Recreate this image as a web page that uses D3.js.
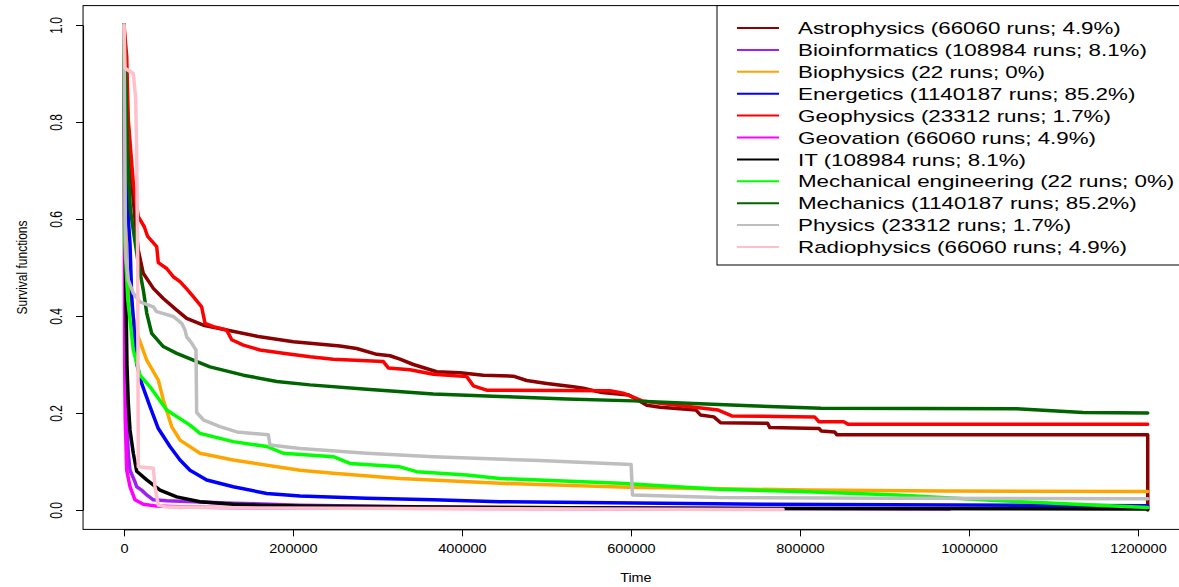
<!DOCTYPE html>
<html lang="en">
  <head>
    <meta charset="utf-8" />
    <title>Survival functions</title>
    <script src="https://cdnjs.cloudflare.com/ajax/libs/d3/7.8.5/d3.min.js"></script>
    <style>
      body { margin: 0; background: #fff; }
      text { font-family: "Liberation Sans", Arial, Helvetica, sans-serif; fill: #000; }
    </style>
  </head>
  <body>
    <div id="chart"></div>
    <script>
    // categories and legend info
    var categories = ["Astrophysics", "Bioinformatics", "Biophysics", "Energetics", "Geophysics",
                      "Geovation", "IT", "Mechanical engineering", "Mechanics", "Physics", "Radiophysics"];
    var runs = [66060, 108984, 22, 1140187, 23312, 66060, 108984, 22, 1140187, 23312, 66060];
    var shares = ["4.9", "8.1", "0", "85.2", "1.7", "4.9", "8.1", "0", "85.2", "1.7", "4.9"];
    var colors = ["#8B0000", "#A020F0", "#FFA500", "#0000FF", "#FF0000",
                  "#FF00FF", "#000000", "#00FF00", "#006400", "#BEBEBE", "#FFC0CB"];

    var xTicks = [0, 200000, 400000, 600000, 800000, 1000000, 1200000];
    var yTicks = [0, 0.2, 0.4, 0.6, 0.8, 1.0];

    // survival curves, [time, survival]
    var astrophysics = [[0,1],[3000,0.85],[8000,0.70],[13000,0.60],[16900,0.536],[22800,0.488],[34700,0.457],
      [46500,0.436],[62400,0.412],[74200,0.395],[93900,0.381],[121500,0.371],[160900,0.357],[200400,0.347],
      [220100,0.344],[255600,0.338],[275400,0.333],[299100,0.321],[314800,0.318],[326600,0.311],[342400,0.300],
      [370100,0.285],[397600,0.283],[425200,0.278],[460700,0.276],[476600,0.267],[500200,0.261],[531700,0.254],
      [543600,0.251],[565700,0.242],[597500,0.237],[618700,0.216],[634600,0.212],[676900,0.206],[682100,0.196],
      [698100,0.192],[706000,0.180],[761500,0.179],[764300,0.170],[822500,0.168],[825100,0.163],[841000,0.161],
      [843700,0.155],[1211500,0.155],[1211500,0]];
    var bioinformatics = [[0,1],[700,0.6],[1800,0.35],[3200,0.186],[5100,0.117],[7100,0.082],[13000,0.058],
      [15000,0.048],[20900,0.041],[26900,0.031],[34700,0.021],[50500,0.019],[129300,0.014],[208300,0.010],
      [366000,0.006],[600000,0.004],[977000,0.002]];
    var biophysics = [[0,1],[1000,0.7],[3500,0.5],[10700,0.4],[16900,0.357],[26900,0.309],[40600,0.268],
      [46500,0.227],[56400,0.172],[66300,0.144],[89900,0.117],[129300,0.103],[208300,0.082],[247700,0.076],
      [326600,0.065],[445000,0.055],[597500,0.047],[809200,0.041],[968000,0.039],[1211500,0.038]];
    var energetics = [[0,1],[3000,0.75],[5100,0.6],[7100,0.55],[9100,0.44],[15000,0.302],[20900,0.261],[30800,0.213],
      [40600,0.168],[54400,0.131],[66300,0.103],[78100,0.082],[97900,0.062],[129300,0.048],[168900,0.034],
      [208300,0.029],[287200,0.024],[366000,0.021],[445000,0.017],[756200,0.012],[1211500,0.009]];
    var geophysics = [[0,1],[3200,0.935],[5100,0.804],[11000,0.674],[16900,0.605],[24000,0.584],[28000,0.564],
      [38700,0.543],[40600,0.510],[50500,0.498],[58300,0.481],[66300,0.471],[74200,0.456],[82000,0.440],
      [91900,0.419],[95900,0.385],[105700,0.378],[121500,0.371],[127500,0.351],[141200,0.340],[160900,0.330],
      [188500,0.323],[220100,0.316],[247700,0.311],[306900,0.306],[312800,0.293],[338500,0.289],[366000,0.280],
      [405600,0.275],[413400,0.256],[429200,0.247],[575100,0.246],[590900,0.241],[613400,0.225],[634300,0.220],
      [703300,0.206],[719300,0.194],[817200,0.192],[822500,0.182],[851600,0.182],[856800,0.177],[1211500,0.177]];
    var geovation = [[0,1],[300,0.6],[800,0.3],[1500,0.186],[3200,0.082],[7100,0.048],[13000,0.021],
      [22800,0.012],[38700,0.008],[74200,0.006],[160900,0.004],[700000,0.002]];
    var it = [[0,1],[800,0.7],[1800,0.5],[3500,0.3],[5100,0.22],[7100,0.165],[11000,0.117],[15000,0.08],
      [26900,0.062],[42600,0.041],[62400,0.027],[89900,0.017],[129300,0.012],[160900,0.010],[208300,0.008],
      [445000,0.005],[800000,0.003],[1211500,0.002]];
    var mechEngineering = [[0,1],[1000,0.55],[4500,0.433],[11000,0.33],[18900,0.278],[30800,0.254],[50500,0.206],
      [78100,0.175],[89900,0.158],[129300,0.141],[168900,0.131],[188500,0.117],[247700,0.110],[267500,0.096],
      [326600,0.089],[346400,0.079],[405600,0.072],[445000,0.065],[587000,0.055],[703300,0.043],[800000,0.038],
      [915000,0.031],[1036700,0.019],[1126600,0.012],[1211500,0.005]];
    var mechanics = [[0,1],[2500,0.86],[4500,0.72],[7500,0.62],[11000,0.577],[16900,0.509],[22800,0.454],[26900,0.406],
      [32800,0.364],[46500,0.337],[62400,0.323],[82000,0.309],[101700,0.295],[141200,0.278],[180700,0.265],
      [220100,0.258],[287200,0.249],[366000,0.239],[445000,0.234],[523900,0.229],[602700,0.225],[681700,0.219],
      [740800,0.215],[824800,0.210],[1056400,0.209],[1135000,0.201],[1211500,0.200]];
    var physics = [[0,1],[800,0.8],[1500,0.6],[2400,0.52],[5100,0.474],[11000,0.447],[18900,0.429],[34700,0.419],
      [38700,0.409],[58300,0.399],[68300,0.385],[72200,0.371],[74200,0.357],[80100,0.344],[85200,0.330],
      [86000,0.201],[93800,0.186],[113600,0.172],[133400,0.161],[170800,0.155],[172800,0.134],[208300,0.127],
      [287200,0.117],[366000,0.110],[491600,0.102],[600100,0.094],[601800,0.031],[703300,0.026],[915000,0.024],
      [1211500,0.023]];
    var radiophysics = [[0,1],[1200,0.911],[11000,0.900],[13800,0.849],[15000,0.736],[16200,0.515],[16900,0.089],
      [34700,0.086],[36700,0.048],[40600,0.010],[50500,0.006],[160900,0.004],[780000,0.001]];

    var curves = [astrophysics, bioinformatics, biophysics, energetics, geophysics, geovation,
                  it, mechEngineering, mechanics, physics, radiophysics];

    var width = 1179, height = 587;

    var svg = d3.select("#chart")
      .append("svg")
        .attr("width", width)
        .attr("height", height);

    // scales (R style: data range extended by 4% on both sides)
    var xMax = d3.max(curves, function(c){ return d3.max(c, function(d){ return d[0]; }); });
    var x = d3.scaleLinear().domain([0, 1200000]).range([124, 1138]);
    var y = d3.scaleLinear().domain([0, 1]).range([510, 25]);
    var boxL = x(-0.04 * xMax), boxR = x(1.04 * xMax);
    var boxT = y(1.04), boxB = y(-0.04);

    // curves
    var line = d3.line()
      .x(function(d){ return x(d[0]); })
      .y(function(d){ return y(d[1]); });

    svg.append("g")
      .selectAll("path")
      .data(curves)
      .enter()
      .append("path")
        .attr("d", line)
        .attr("fill", "none")
        .attr("stroke", function(d, i){ return colors[i]; })
        .attr("stroke-width", 3.5)
        .attr("stroke-linejoin", "round")
        .attr("stroke-linecap", "round");

    // box
    svg.append("rect")
      .attr("x", boxL).attr("y", boxT)
      .attr("width", boxR - boxL).attr("height", boxB - boxT)
      .attr("fill", "none").attr("stroke", "#000").attr("stroke-width", 1);

    // x axis
    var gx = svg.append("g")
      .attr("transform", "translate(0," + boxB + ")")
      .call(d3.axisBottom(x).tickValues(xTicks).tickSize(7).tickSizeOuter(0).tickFormat(d3.format("d")));
    gx.selectAll("text")
      .attr("y", 0).attr("dy", 0)
      .attr("font-size", 12)
      .attr("transform", "translate(0,23.5) scale(1.21,1)");

    // y axis
    var gy = svg.append("g")
      .attr("transform", "translate(" + boxL + ",0)")
      .call(d3.axisLeft(y).tickValues(yTicks).tickSize(7).tickSizeOuter(0).tickFormat(d3.format(".1f")));
    gy.selectAll("text")
      .attr("x", 0).attr("dy", 0)
      .attr("text-anchor", "middle")
      .attr("font-size", 12)
      .attr("transform", "translate(-21.3,0) rotate(-90) scale(1,1.3)");
    svg.selectAll(".domain, .tick line").attr("stroke", "#000");
    svg.selectAll(".tick text").attr("fill", "#000").attr("font-family", null);

    // axis titles
    svg.append("text")
      .attr("text-anchor", "middle")
      .attr("font-size", 12)
      .attr("transform", "translate(" + ((boxL + boxR) / 2) + ",582) scale(1.2,1)")
      .text("Time");
    svg.append("text")
      .attr("text-anchor", "middle")
      .attr("font-size", 12)
      .attr("transform", "translate(26.5," + ((boxT + boxB) / 2) + ") rotate(-90) scale(1,1.16)")
      .text("Survival functions");

    // legend
    var legend = svg.append("g");
    legend.append("rect")
      .attr("x", 717).attr("y", boxT)
      .attr("width", boxR - 717).attr("height", 265 - boxT)
      .attr("fill", "#fff").attr("stroke", "#000").attr("stroke-width", 1);

    var rows = legend.selectAll("g.row")
      .data(categories)
      .enter()
      .append("g")
        .attr("class", "row")
        .attr("transform", function(d, i){ return "translate(0," + (28 + i * 21.9) + ")"; });
    rows.append("line")
      .attr("x1", 737).attr("x2", 779)
      .attr("stroke", function(d, i){ return colors[i]; })
      .attr("stroke-width", 2);
    rows.append("text")
      .attr("font-size", 17)
      .attr("dy", "0.36em")
      .attr("transform", "translate(798,0) scale(1.315,1)")
      .text(function(d, i){ return d + " (" + runs[i] + " runs; " + shares[i] + "%)"; });
    </script>
  </body>
</html>
